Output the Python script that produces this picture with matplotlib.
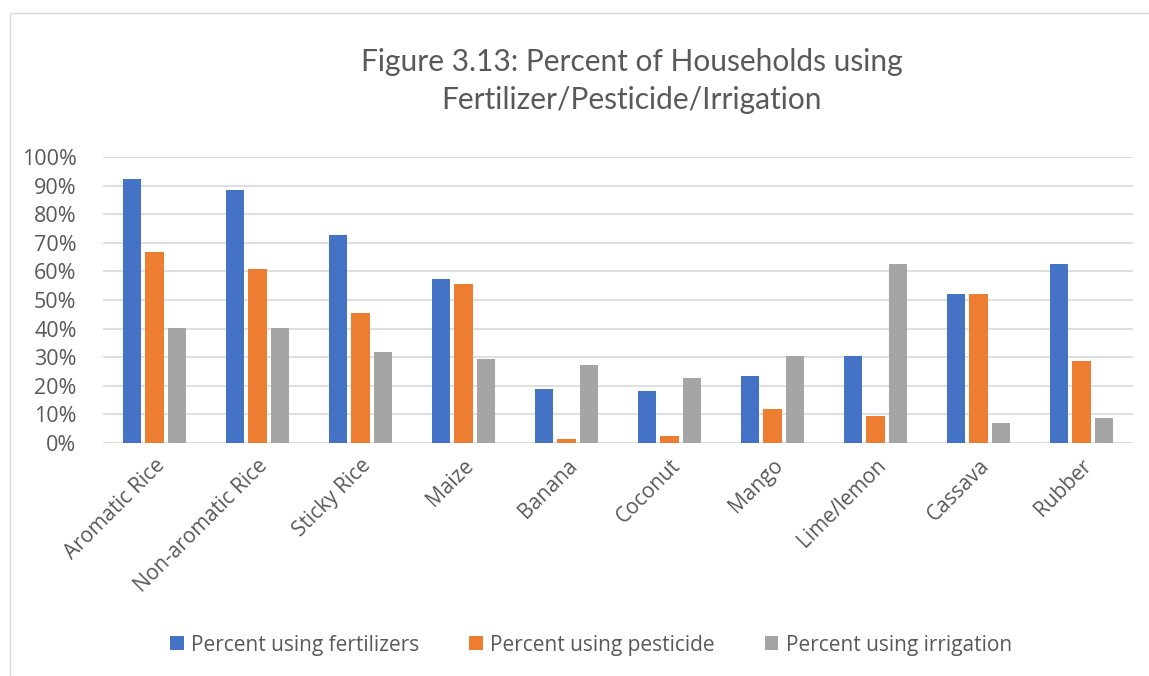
import matplotlib
matplotlib.use("Agg")
import matplotlib.pyplot as plt
from matplotlib.patches import Rectangle
import numpy as np

categories = ["Aromatic Rice", "Non-aromatic Rice", "Sticky Rice", "Maize", "Banana",
              "Coconut", "Mango", "Lime/lemon", "Cassava", "Rubber"]
fertilizers = [92.3, 88.4, 72.7, 57.4, 18.9, 18.1, 23.5, 30.3, 52.1, 62.7]
pesticide = [66.8, 61.0, 45.3, 55.7, 1.3, 2.5, 11.9, 9.3, 52.1, 28.6]
irrigation = [40.1, 40.3, 31.8, 29.4, 27.2, 22.5, 30.3, 62.7, 6.8, 8.6]
series_names = ["Percent using fertilizers", "Percent using pesticide", "Percent using irrigation"]
colors = ["#4472C4", "#ED7D31", "#A5A5A5"]
title = "Figure 3.13: Percent of Households using\nFertilizer/Pesticide/Irrigation"

plt.rcParams['font.family'] = ['Open Sans', 'DejaVu Sans']
W, H = 1149, 676
fig = plt.figure(figsize=(W / 100, H / 100), dpi=100)
fig.patch.set_facecolor("white")

# chart border
fig.add_artist(Rectangle((10 / W, -0.01), 1.2, 1 - 13 / H + 0.01, transform=fig.transFigure,
                         fill=False, edgecolor="#D9D9D9", linewidth=1))

ax = fig.add_axes([103 / W, 1 - 442.7 / H, (1133 - 103) / W, (442.7 - 157.3) / H])
x = np.arange(len(categories))
width = 0.175
offset = 0.223
for i, (vals, name, c) in enumerate(zip([fertilizers, pesticide, irrigation], series_names, colors)):
    ax.bar(x + (i - 1) * offset, vals, width, color=c, label=name, zorder=3)

ax.set_xlim(-0.5, len(categories) - 0.5)
ax.set_ylim(0, 100)
ax.set_yticks(np.arange(0, 101, 10))
ax.set_yticklabels([f"{v}%" for v in range(0, 101, 10)], fontsize=15.5, color="#595959")
ax.set_xticks(x)
ax.set_xticklabels(categories, rotation=45, ha="right", rotation_mode="anchor",
                   fontsize=15, color="#595959")
ax.tick_params(axis="both", length=0)
ax.tick_params(axis="y", pad=19)
ax.tick_params(axis="x", pad=9)
ax.grid(axis="y", color="#D9D9D9", linewidth=1.2, zorder=0)
for s in ax.spines.values():
    s.set_visible(False)

fig.text(632 / W, 1 - 81 / H, title, ha="center", va="center", fontsize=21.5,
         fontfamily=["Lato", "DejaVu Sans"],
         color="#595959", linespacing=1.45)

handles, labels = ax.get_legend_handles_labels()
fig.legend(handles, labels, loc="center", bbox_to_anchor=(591 / W, 1 - 645 / H), ncol=3,
           frameon=False, fontsize=15, handlelength=0.65, handleheight=0.65,
           columnspacing=2.4, handletextpad=0.35, labelcolor="#595959")

fig.savefig("out.png", dpi=100, facecolor="white")
